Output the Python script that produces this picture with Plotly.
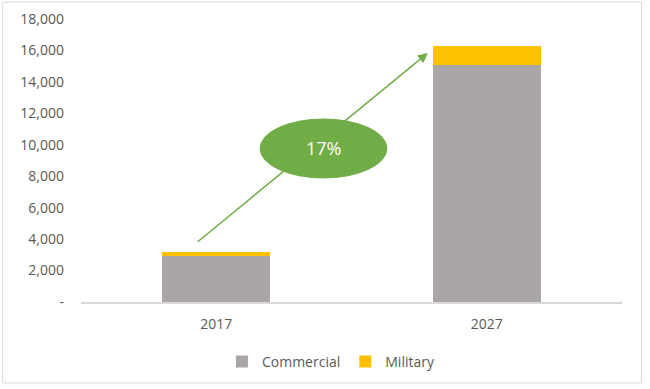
import plotly.graph_objects as go

years = ["2017", "2027"]
commercial = [2950, 15050]
military = [250, 1250]
tick_vals = [0, 2000, 4000, 6000, 8000, 10000, 12000, 14000, 16000, 18000]
tick_text = ["-", "2,000", "4,000", "6,000", "8,000", "10,000", "12,000", "14,000", "16,000", "18,000"]
growth_label = "17%"

FONT = "Open Sans"
fig = go.Figure()
fig.add_trace(go.Bar(x=years, y=commercial, name="Commercial", marker_color="#aaa6a6",
                     marker_line_width=0))
fig.add_trace(go.Bar(x=years, y=military, name="Military", marker_color="#ffc000",
                     marker_line_width=0))

fig.update_layout(
    barmode="stack",
    bargap=0.6,
    width=650, height=389,
    margin=dict(l=80.5, r=27.5, t=19, b=87, autoexpand=False),
    plot_bgcolor="white", paper_bgcolor="white",
    font=dict(family=FONT, size=14, color="#595959"),
    showlegend=True,
    legend=dict(orientation="h", x=0.462, xanchor="center", y=-0.155, yanchor="top",
                font=dict(size=14, color="#595959"), itemwidth=30,
                traceorder="normal"),
    xaxis=dict(type="category", showgrid=False, showline=True, linecolor="#d9d9d9",
               linewidth=1.5, ticks="", tickfont=dict(size=14, color="#595959"),
               range=[-0.5, 1.5], ticklabelstandoff=8),
    yaxis=dict(range=[0, 18000], tickvals=tick_vals, ticktext=tick_text,
               showgrid=False, zeroline=False, showline=False, ticks="",
               ticklen=0, tickfont=dict(size=14, color="#595959"),
               ticklabelstandoff=16),
)

# arrow (data coordinates on category axis positions)
fig.add_annotation(x=0.782, y=15840, ax=-0.074, ay=3753, xref="x", yref="y",
                   axref="x", ayref="y", showarrow=True, arrowhead=2, arrowsize=1.3,
                   arrowwidth=1.5, arrowcolor="#70ad47", text="")

# ellipse
fig.add_shape(type="circle", xref="x", yref="y", x0=0.162, x1=0.631, y0=7888, y1=11641,
              fillcolor="#70ad47", line=dict(color="#70ad47", width=1))
fig.add_annotation(x=(0.162 + 0.631) / 2, y=(7888 + 11641) / 2, xref="x", yref="y",
                   text=growth_label, showarrow=False,
                   font=dict(family=FONT, size=18, color="white"))

# chart border
fig.add_shape(type="rect", xref="paper", yref="paper", x0=-0.1448, x1=1.036,
              y0=-0.286, y1=1.060, line=dict(color="#d9d9d9", width=1), layer="below")

fig.write_html("out.html", config={"displayModeBar": False},
               post_script="document.body.style.margin='0';")
